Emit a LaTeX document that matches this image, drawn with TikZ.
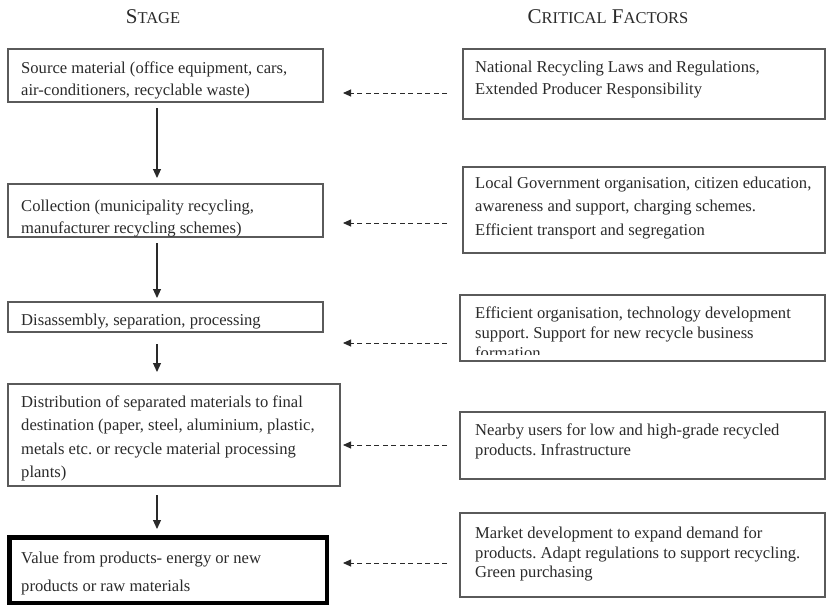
\documentclass[tikz,border=0pt]{standalone}
\usepackage{fontspec}
\setmainfont{Liberation Serif}
\usetikzlibrary{arrows.meta}
\definecolor{ink}{HTML}{2A2A2A}
\definecolor{frame}{HTML}{5A5A5A}
\frenchspacing
\begin{document}
\begin{tikzpicture}[x=1pt,y=-1pt,
  every node/.style={text=ink},
  boxtext/.style={anchor=north west, inner sep=0pt, align=left, font=\fontsize{16.6}{#1}\selectfont},
  boxtext/.default=22,
  hdr/.style={anchor=base, font=\fontsize{21}{24}\selectfont},
  flow/.style={draw=ink, line width=1.1pt, -{Triangle[length=9pt,width=8pt]}},
  dasharrow/.style={draw=ink, line width=0.9pt, dash pattern=on 5pt off 3.5pt, -{Triangle[length=8pt,width=7pt]}},
  frm/.style={draw=frame, line width=1.3pt}]
\useasboundingbox (0,0) rectangle (826,606);
% headers
\node[hdr] (h1) at (153,23) {S{\fontsize{16.5}{18}\selectfont TAGE}};
\node[hdr] (h2) at (608,23) {C{\fontsize{16.5}{18}\selectfont RITICAL} F{\fontsize{16.5}{18}\selectfont ACTORS}};
% stage boxes
\draw[frm] (8,49) rectangle (323,102);
\node[boxtext=22] (t1) at (21,61.5) {Source material (office equipment, cars,\\air-conditioners, recyclable waste)};
\coordinate (b1n) at (157,49); \coordinate (b1s) at (157,102);
\draw[frm] (8,184) rectangle (323,237);
\node[boxtext=22] (t2) at (21,199.5) {Collection (municipality recycling,\\manufacturer recycling schemes)};
\coordinate (b2n) at (157,184); \coordinate (b2s) at (157,237);
\draw[frm] (8,302) rectangle (323,332);
\node[boxtext=22] (t3) at (21,313.5) {Disassembly, separation, processing};
\coordinate (b3n) at (157,302); \coordinate (b3s) at (157,332);
\draw[frm] (8,384) rectangle (340,486);
\node[boxtext=23.4] (t4) at (21,395.5) {Distribution of separated materials to final\\destination (paper, steel, aluminium, plastic,\\metals etc. or recycle material processing\\plants)};
\coordinate (b4n) at (157,384); \coordinate (b4s) at (157,486);
\draw[draw=black, line width=4.5pt] (9.5,537.5) rectangle (327,603);
\node[boxtext=28] (t5) at (21,551.5) {Value from products- energy or new\\products or raw materials};
\coordinate (b5n) at (157,535);
% flow arrows
\draw[flow, shorten <=6pt, shorten >=6pt] (b1s) -- (b2n);
\draw[flow, shorten <=6pt, shorten >=4pt] (b2s) -- (b3n);
\draw[flow, shorten <=12pt, shorten >=12pt] (b3s) -- (b4n);
\draw[flow, shorten <=9pt, shorten >=6pt] (b4s) -- (b5n);
% factor boxes
\draw[frm] (463,49) rectangle (825,119);
\node[boxtext=22] (f1) at (475,60.5) {National Recycling Laws and Regulations,\\Extended Producer Responsibility};
\draw[frm] (463,167) rectangle (825,253);
\node[boxtext=23.5] (f2) at (475,176.5) {Local Government organisation, citizen education,\\awareness and support, charging schemes.\\Efficient transport and segregation};
\begin{scope}
\clip (460,295) rectangle (826,354);
\node[boxtext=20] (f3) at (475,306.5) {Efficient organisation, technology development\\support. Support for new recycle business\\formation};
\end{scope}
\draw[frm] (460,295) rectangle (825,361);
\draw[frm] (460,412) rectangle (825,479);
\node[boxtext=20] (f4) at (475,423.5) {Nearby users for low and high-grade recycled\\products. Infrastructure};
\draw[frm] (460,513) rectangle (825,597);
\node[boxtext=19.6] (f5) at (475,526.5) {Market development to expand demand for\\products. Adapt regulations to support recycling.\\Green purchasing};
% dashed arrows
\foreach \y in {93,223,343,445,563} {
  \draw[dasharrow] (447,\y) -- (343,\y);
}
\end{tikzpicture}
\end{document}
